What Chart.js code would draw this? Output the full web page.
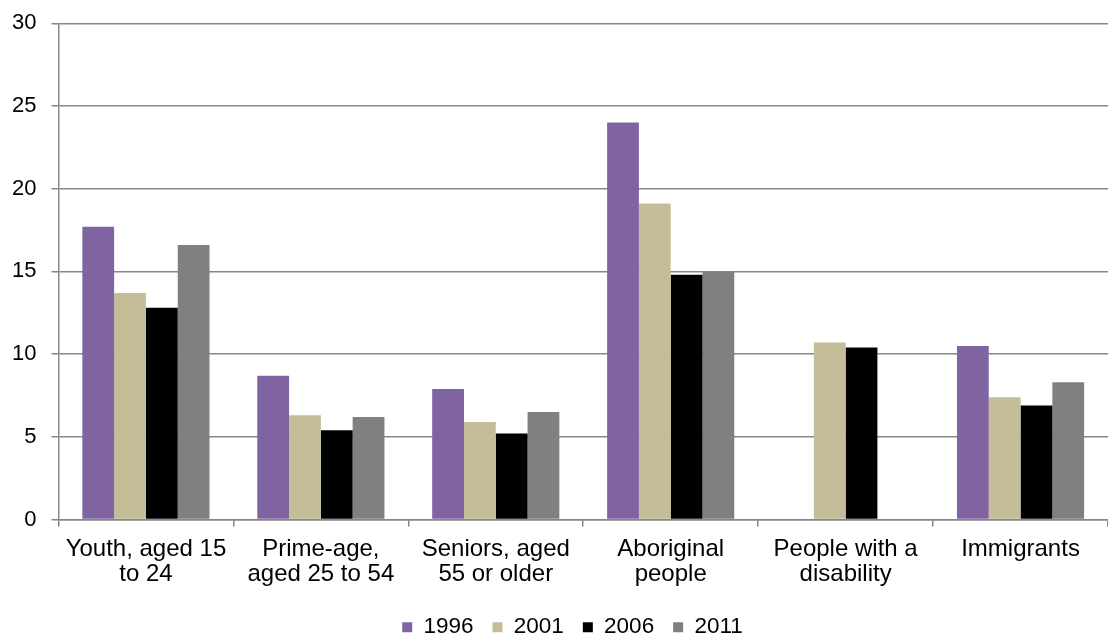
<!DOCTYPE html>
<html>
<head>
<meta charset="utf-8">
<script src="https://cdn.jsdelivr.net/npm/chart.js@4"></script>
<style>
  html, body { margin: 0; padding: 0; background: #fff; }
  #wrap { width: 1108px; height: 635px; }
</style>
</head>
<body>
<div id="wrap"><canvas id="rate-chart"></canvas></div>
<script>
const categories = [
    ['Youth, aged 15', 'to 24'],
    ['Prime-age,', 'aged 25 to 54'],
    ['Seniors, aged', '55 or older'],
    ['Aboriginal', 'people'],
    ['People with a', 'disability'],
    'Immigrants'
];
const years = ['1996', '2001', '2006', '2011'];
const values1996 = [17.7, 8.7, 7.9, 24.0, null, 10.5];
const values2001 = [13.7, 6.3, 5.9, 19.1, 10.7, 7.4];
const values2006 = [12.8, 5.4, 5.2, 14.8, 10.4, 6.9];
const values2011 = [16.6, 6.2, 6.5, 15.0, null, 8.3];
const yTicks = [0, 5, 10, 15, 20, 25, 30];

const colors = ['#8064A2', '#C4BD97', '#000000', '#808080'];
const gridColor = '#878787';
const fontFamily = "'Liberation Sans', Arial, sans-serif";

const seriesValues = [values1996, values2001, values2006, values2011];

const ctx = document.getElementById('rate-chart').getContext('2d');

// one dataset per census year
const datasets = years.map((year, i) => ({
    label: year,
    data: seriesValues[i],
    backgroundColor: colors[i],
    borderWidth: 0,
    barPercentage: 1,
    categoryPercentage: 0.727
}));

// the legend sits a little right of the canvas centre, like in the original
const legendShift = {
    id: 'legendShift',
    afterLayout(chart) {
        chart.legend.left += 20;
        chart.legend.right += 20;
    }
};

new Chart(ctx, {
    type: 'bar',
    data: {
        labels: categories,
        datasets: datasets
    },
    plugins: [legendShift],
    options: {
        responsive: true,
        maintainAspectRatio: false,
        animation: false,
        layout: {
            padding: { left: -3, right: 0, top: 0, bottom: 0 }
        },
        plugins: {
            tooltip: { enabled: false },
            legend: {
                position: 'bottom',
                maxHeight: 38,
                labels: {
                    font: { family: fontFamily, size: 22.5 },
                    color: '#000',
                    boxWidth: 10,
                    boxHeight: 10,
                    padding: 19
                }
            }
        },
        scales: {
            x: {
                offset: true,
                grid: {
                    offset: true,
                    drawOnChartArea: false,
                    drawTicks: true,
                    tickLength: 7,
                    color: gridColor,
                    lineWidth: 1.5
                },
                border: { display: true, color: gridColor, width: 1.5 },
                ticks: {
                    font: { family: fontFamily, size: 24, lineHeight: 1.05 },
                    color: '#000',
                    padding: 10,
                    maxRotation: 0,
                    autoSkip: false
                }
            },
            y: {
                min: 0,
                max: 30,
                afterBuildTicks: axis => {
                    axis.ticks = yTicks.map(v => ({ value: v }));
                },
                grid: {
                    drawTicks: true,
                    tickLength: 7,
                    color: gridColor,
                    lineWidth: 1.5
                },
                border: { display: true, color: gridColor, width: 1.5 },
                ticks: {
                    font: { family: fontFamily, size: 22, lineHeight: 0.75 },
                    color: '#000',
                    padding: 15
                }
            }
        }
    }
});
</script>
</body>
</html>
